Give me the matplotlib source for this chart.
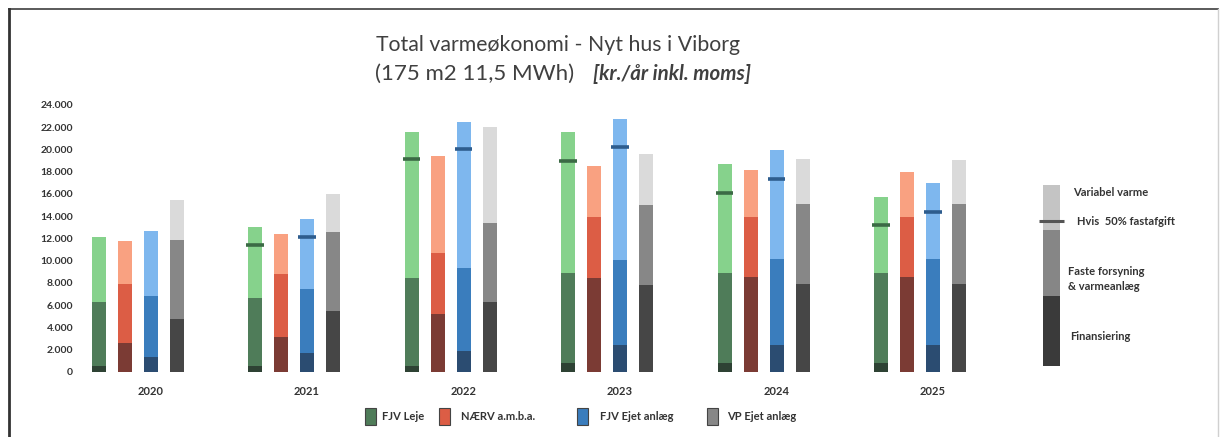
import matplotlib
matplotlib.use("Agg")
import matplotlib.pyplot as plt
from matplotlib.patches import Rectangle
from matplotlib.lines import Line2D
import numpy as np

# ---------------- data ----------------
years = ["2020", "2021", "2022", "2023", "2024", "2025"]
series = ["FJV Leje", "NÆRV a.m.b.a.", "FJV Ejet anlæg", "VP Ejet anlæg"]

# segment amounts (kr./år): Finansiering, Faste forsyning & varmeanlæg, Variabel varme
fjv_leje_fin = [500, 500, 500, 800, 800, 800]
fjv_leje_fast = [5800, 6160, 7900, 8050, 8050, 8110]
fjv_leje_var = [5850, 6340, 13200, 12700, 9840, 6840]
fjv_leje_50 = [np.nan, 11400, 19140, 18990, 16050, 13200]

naerv_fin = [2550, 3150, 5190, 8460, 8550, 8550]
naerv_fast = [5320, 5670, 5520, 5490, 5400, 5400]
naerv_var = [3920, 3550, 8730, 4590, 4200, 4000]

fjv_ejet_fin = [1350, 1650, 1890, 2400, 2400, 2400]
fjv_ejet_fast = [5490, 5760, 7410, 7650, 7710, 7710]
fjv_ejet_var = [5850, 6330, 13150, 12690, 9840, 6900]
fjv_ejet_50 = [np.nan, 12150, 20040, 20200, 17300, 14400]

vp_fin = [4710, 5460, 6240, 7800, 7870, 7870]
vp_fast = [7140, 7140, 7110, 7200, 7190, 7190]
vp_var = [3600, 3400, 8700, 4570, 4040, 3990]

# explanation bar (legend-like)
expl_segments = [6300, 5950, 4050]   # Finansiering, Faste, Variabel
expl_base = 500
expl_50 = 13560
expl_labels = ["Finansiering", "Faste forsyning\n& varmeanlæg", "Hvis  50% fastafgift", "Variabel varme"]

yticks = list(range(0, 24001, 2000))
ytick_labels = ["0" if v == 0 else f"{v//1000}.000" for v in yticks]

# ---------------- style ----------------
colors = {
    "FJV Leje": ["#2e4234", "#4f7c59", "#86d28c"],
    "NÆRV a.m.b.a.": ["#7b3b34", "#dc5d45", "#f9a181"],
    "FJV Ejet anlæg": ["#2b4c71", "#3a7dbd", "#7eb7ee"],
    "VP Ejet anlæg": ["#464646", "#878787", "#dadada"],
}
marker_colors = {"FJV Leje": "#3b6a45", "FJV Ejet anlæg": "#2e5d8e"}
legend_colors = ["#4f7c59", "#dc5d45", "#3a7dbd", "#878787"]

FONT = "Lato"
W, H = 1227, 437
fig = plt.figure(figsize=(W / 100, H / 100), dpi=100)

def px(xp, yp):
    return xp / W, 1 - yp / H

# axes placement in pixels
ax_left_px, ax_right_px = 80, 1210
ax_bottom_px, ax_top_px = 371.7, 105
ax = fig.add_axes([ax_left_px / W, 1 - ax_bottom_px / H,
                   (ax_right_px - ax_left_px) / W, (ax_bottom_px - ax_top_px) / H])

group_px = 156.5
pitch = 26 / group_px
bw = 14 / group_px
x0 = (ax_left_px - 150.5) / group_px
x1 = (ax_right_px - 150.5) / group_px
ax.set_xlim(x0, x1)
ax.set_ylim(0, 24000)

data = [
    ("FJV Leje", fjv_leje_fin, fjv_leje_fast, fjv_leje_var, fjv_leje_50),
    ("NÆRV a.m.b.a.", naerv_fin, naerv_fast, naerv_var, None),
    ("FJV Ejet anlæg", fjv_ejet_fin, fjv_ejet_fast, fjv_ejet_var, fjv_ejet_50),
    ("VP Ejet anlæg", vp_fin, vp_fast, vp_var, None),
]
g = np.arange(len(years))
for s, (name, fin, fast, var, m50) in enumerate(data):
    x = g + (s - 2) * pitch
    c = colors[name]
    fin = np.array(fin, float); fast = np.array(fast, float); var = np.array(var, float)
    ax.bar(x, fin, bw, color=c[0], linewidth=0)
    ax.bar(x, fast, bw, bottom=fin, color=c[1], linewidth=0)
    ax.bar(x, var, bw, bottom=fin + fast, color=c[2], linewidth=0)
    if m50 is not None:
        for xi, v in zip(x, m50):
            if not np.isnan(v):
                ax.plot([xi - bw * 0.62, xi + bw * 0.62], [v, v], color=marker_colors[name],
                        lw=2.6, solid_capstyle="butt")

# explanation bar
ex = (1051.5 - 150.5) / group_px
ebw = 17 / group_px
grey = ["#3a3a3a", "#868686", "#c4c4c4"]
bot = expl_base
for seg, col in zip(expl_segments, grey):
    ax.bar(ex, seg, ebw, bottom=bot, color=col, linewidth=0)
    bot += seg
ax.plot([ex - ebw * 0.75, ex + ebw * 0.75], [expl_50, expl_50], color="#555555", lw=2.2,
        solid_capstyle="butt")

txt_kw = dict(fontfamily=FONT, fontweight="bold", fontsize=8, color="#333333", va="center")
fig.text(*px(1073, 193), expl_labels[3], **txt_kw)
fig.text(*px(1077, 221), expl_labels[2], **txt_kw)
fig.text(*px(1068, 279), expl_labels[1], linespacing=1.35, **txt_kw)
fig.text(*px(1070, 337), expl_labels[0], **txt_kw)

# axes styling
for sp in ax.spines.values():
    sp.set_visible(False)
ax.set_yticks(yticks)
ax.set_yticklabels(ytick_labels, fontfamily=FONT, fontweight="bold", fontsize=7.5, color="#333333")
ax.set_xticks(g)
ax.set_xticklabels(years, fontfamily=FONT, fontweight="bold", fontsize=8, color="#333333")
ax.tick_params(axis="both", length=0)
ax.tick_params(axis="y", pad=5)
ax.tick_params(axis="x", pad=10)

# title
fig.text(*px(558, 45), "Total varmeøkonomi - Nyt hus i Viborg", fontfamily=FONT,
         fontsize=15.3, color="#404040", ha="center", va="center")
fig.text(*px(574, 74), "(175 m2 11,5 MWh)", fontfamily=FONT, fontsize=16,
         color="#404040", ha="right", va="center")
fig.text(*px(593, 74), "[kr./år inkl. moms]", fontfamily=FONT, fontsize=14.8,
         fontweight="bold", fontstyle="italic", color="#404040", ha="left", va="center")

# bottom legend (manual placement)
leg_box_x = [365, 439, 577, 707]
leg_txt_x = [382, 461, 600, 727]
for bx, tx, col, lab in zip(leg_box_x, leg_txt_x, legend_colors, series):
    fig.add_artist(Rectangle(px(bx, 425), 11 / W, 17 / H, facecolor=col, edgecolor="#444444",
                             linewidth=0.8, transform=fig.transFigure))
    fig.text(*px(tx, 416), lab, fontfamily=FONT, fontweight="bold", fontsize=8,
             color="#333333", ha="left", va="center")

# outer frame
fig.add_artist(Line2D([9 / W, 1218 / W], [1 - 9 / H, 1 - 9 / H], color="#5a5a5a", lw=1.4,
                      transform=fig.transFigure))
fig.add_artist(Line2D([9 / W, 9 / W], [0, 1 - 9 / H], color="#333333", lw=2.0,
                      transform=fig.transFigure))
fig.add_artist(Line2D([1218 / W, 1218 / W], [0, 1 - 9 / H], color="#d0d0d0", lw=1.0,
                      transform=fig.transFigure))

fig.savefig("out.png", dpi=100, facecolor="white")
